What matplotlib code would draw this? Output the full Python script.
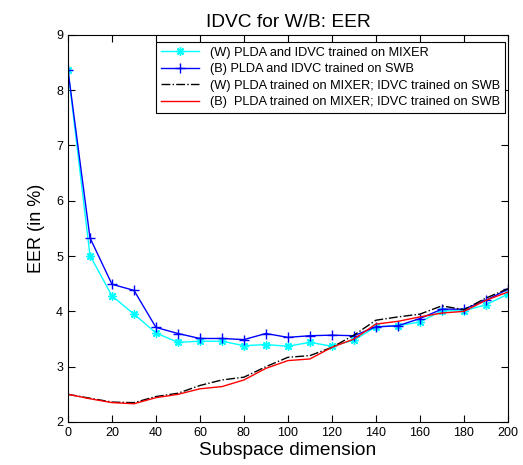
import matplotlib
matplotlib.use("Agg")
import matplotlib.pyplot as plt

# Data
dims = [0, 10, 20, 30, 40, 50, 60, 70, 80, 90, 100,
        110, 120, 130, 140, 150, 160, 170, 180, 190, 200]

w_mixer = [8.36, 5.01, 4.28, 3.95, 3.61, 3.44, 3.46, 3.46, 3.38, 3.40, 3.37,
           3.44, 3.37, 3.48, 3.72, 3.74, 3.81, 4.01, 4.01, 4.12, 4.31]
b_swb = [8.36, 5.33, 4.49, 4.38, 3.71, 3.60, 3.51, 3.51, 3.49, 3.60, 3.53,
         3.56, 3.57, 3.56, 3.72, 3.74, 3.87, 4.04, 4.04, 4.20, 4.40]
w_mixed = [2.50, 2.43, 2.36, 2.35, 2.46, 2.52, 2.66, 2.76, 2.81, 3.00, 3.17,
           3.20, 3.35, 3.57, 3.84, 3.90, 3.95, 4.10, 4.03, 4.24, 4.41]
b_mixed = [2.50, 2.42, 2.35, 2.33, 2.44, 2.50, 2.60, 2.64, 2.76, 2.97, 3.11,
           3.14, 3.35, 3.50, 3.77, 3.82, 3.90, 3.97, 4.00, 4.20, 4.35]

labels = ["(W) PLDA and IDVC trained on MIXER",
          "(B) PLDA and IDVC trained on SWB",
          "(W) PLDA trained on MIXER; IDVC trained on SWB",
          "(B)  PLDA trained on MIXER; IDVC trained on SWB"]

plt.rcParams['font.family'] = ['Liberation Sans', 'DejaVu Sans']

fig = plt.figure(figsize=(5.23, 4.65), dpi=100)
ax = fig.add_axes([0.130, 0.0925, 0.841, 0.8325])

# asterisk marker like MATLAB's '*'
ax.plot(dims, w_mixer, color="cyan", marker=(8, 2, 0), markersize=6,
        markeredgewidth=1, lw=1, label=labels[0])
ax.plot(dims, b_swb, color="blue", marker="+", markersize=7,
        markeredgewidth=1, lw=1, label=labels[1])
ax.plot(dims, w_mixed, color="black", linestyle="-.", lw=1, label=labels[2])
ax.plot(dims, b_mixed, color="red", lw=1, label=labels[3])

ax.set_xlim(0, 200)
ax.set_ylim(2, 9)
ax.set_xticks(range(0, 201, 20))
ax.set_yticks(range(2, 10))
ax.tick_params(direction="in", top=True, right=True, labelsize=9, length=5)

ax.set_title("IDVC for W/B: EER", fontsize=13.8)
ax.set_xlabel("Subspace dimension", fontsize=13.8, labelpad=2)
ax.set_ylabel("EER (in %)", fontsize=13, labelpad=8)

leg = ax.legend(loc="upper right", bbox_to_anchor=(0.993, 0.982),
                fontsize=9.15, fancybox=False, framealpha=1,
                edgecolor="black", borderaxespad=0, handlelength=3.0,
                labelspacing=0.35, borderpad=0.4)
leg.get_frame().set_linewidth(0.8)

fig.savefig("out.png", dpi=100)
